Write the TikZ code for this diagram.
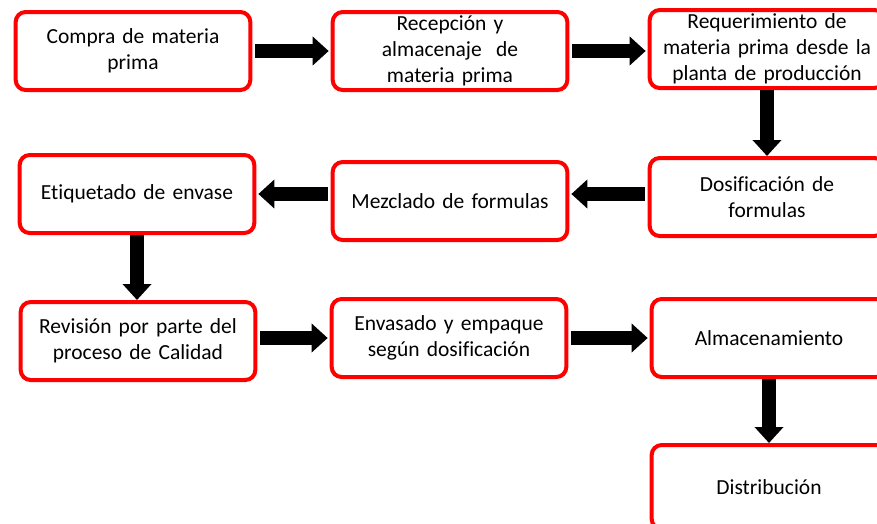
\documentclass[tikz,border=0pt]{standalone}
\usepackage{fontspec}
\setmainfont{Carlito}[Ligatures=NoCommon, WordSpace=0.85]
\usetikzlibrary{
    arrows.meta,
    positioning
}

\tikzset{
    caja/.style={draw=red, line width=4pt, rounded corners=10pt, fill=white,
        minimum width=234pt, minimum height=78pt, text width=228pt, align=center,
        font=\fontsize{21.5}{26}\selectfont},
    flecha/.style={line width=14pt, -{Triangle[width=28pt, length=16pt]}}
}

\begin{document}
\begin{tikzpicture}[x=1pt, y=-1pt]
    \useasboundingbox[fill=white] (0, 0) rectangle (877, 523);

    \node[caja] (compra) at (133, 51) {Compra de materia\\prima};
    \node[caja] (recep) at (450, 51) {Recepción y\\almacenaje \ de\\materia prima};
    \node[caja] (req) at (767, 49) {Requerimiento de\\materia prima desde la\\planta de producción};

    \node[caja] (etiq) at (137, 194) {Etiquetado de envase};
    \node[caja] (mezcla) at (450, 201) {Mezclado de formulas};
    \node[caja] (dosif) at (767, 197) {Dosificación de\\formulas};

    \node[caja] (revision) at (138, 341) {Revisión por parte del\\proceso de Calidad};
    \node[caja] (envasado) at (449, 338) {Envasado y empaque\\según dosificación};
    \node[caja] (almac) at (769, 338) {Almacenamiento};
    \node[caja, minimum height=84pt] (distrib) at (769, 487) {Distribución};

    % primera fila
    \draw[flecha, shorten <=3pt, shorten >=2pt] (compra.east) -- (recep.west);
    \draw[flecha, shorten <=3pt, shorten >=2pt] (recep.east) -- (recep.east -| req.west);
    \draw[flecha] (req.south) -- (dosif.north);

    % segunda fila
    \draw[flecha, shorten <=3pt, shorten >=2pt] (dosif.west |- etiq) -- (mezcla.east |- etiq);
    \draw[flecha, shorten <=3pt, shorten >=2pt] (mezcla.west |- etiq) -- (etiq.east);
    \draw[flecha] (etiq.south) -- (etiq.south |- revision.north);

    % tercera fila
    \draw[flecha, shorten <=3pt, shorten >=2pt] (revision.east |- envasado) -- (envasado.west);
    \draw[flecha, shorten <=3pt, shorten >=2pt] (envasado.east) -- (almac.west);
    \draw[flecha] (almac.south) -- (distrib.north);
\end{tikzpicture}
\end{document}
